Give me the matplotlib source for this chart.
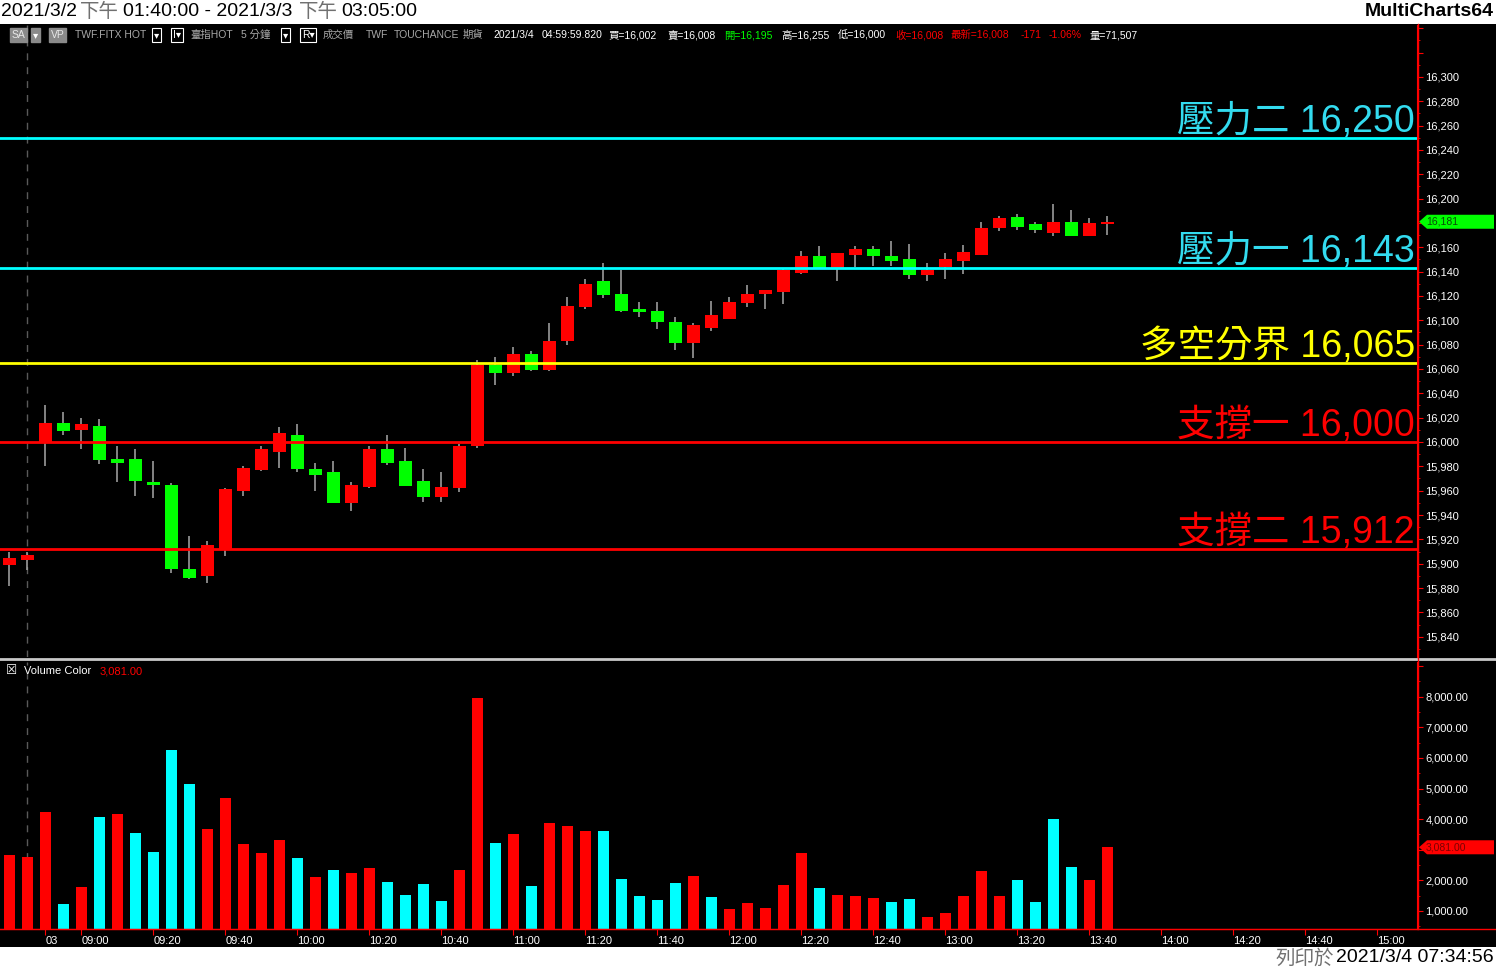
import matplotlib
matplotlib.use('Agg')
import matplotlib.pyplot as plt
import matplotlib.transforms as mtrans
from matplotlib.patches import Rectangle, Polygon
from matplotlib.lines import Line2D
from matplotlib.ticker import FuncFormatter, MultipleLocator

plt.rcParams['font.family'] = ['Liberation Sans', 'Noto Sans CJK TC', 'DejaVu Sans']

# 台指 HOT 5 分鐘 K 棒
opens = [15899, 15903, 15999, 16016, 16010, 16013, 15986, 15986, 15967, 15965,
         15896, 15890, 15911, 15960, 15977, 15992, 16006, 15978, 15975, 15950,
         15963, 15994, 15984, 15968, 15955, 15962, 15997, 16063, 16057, 16072,
         16059, 16083, 16111, 16132, 16122, 16109, 16108, 16099, 16081, 16094,
         16101, 16114, 16122, 16123, 16139, 16153, 16143, 16154, 16159, 16153,
         16150, 16137, 16144, 16149, 16154, 16176, 16185, 16179, 16172, 16181,
         16169, 16179]
highs = [15910, 15910, 16030, 16025, 16020, 16019, 15997, 15994, 15984, 15966,
         15923, 15919, 15962, 15980, 15997, 16012, 16015, 15983, 15984, 15967,
         15997, 16006, 15995, 15978, 15975, 15998, 16067, 16070, 16078, 16075,
         16098, 16119, 16134, 16147, 16141, 16115, 16115, 16103, 16098, 16116,
         16119, 16129, 16125, 16142, 16157, 16161, 16155, 16161, 16161, 16165,
         16163, 16147, 16155, 16162, 16181, 16186, 16187, 16181, 16196, 16191,
         16184, 16186]
lows = [15882, 15895, 15980, 16006, 15994, 15982, 15967, 15956, 15954, 15892,
        15887, 15884, 15906, 15956, 15976, 15979, 15975, 15960, 15950, 15943,
        15962, 15981, 15964, 15951, 15951, 15959, 15995, 16047, 16054, 16058,
        16058, 16080, 16109, 16118, 16107, 16103, 16093, 16076, 16069, 16091,
        16101, 16111, 16109, 16113, 16138, 16142, 16132, 16144, 16145, 16145,
        16134, 16132, 16134, 16138, 16154, 16173, 16174, 16172, 16169, 16169,
        16169, 16170]
closes = [15905, 15907, 16016, 16009, 16015, 15985, 15983, 15968, 15965, 15896,
          15888, 15915, 15961, 15979, 15994, 16007, 15978, 15973, 15950, 15965,
          15994, 15983, 15964, 15955, 15963, 15997, 16063, 16057, 16072, 16059,
          16083, 16112, 16130, 16121, 16108, 16107, 16099, 16081, 16096, 16104,
          16115, 16122, 16125, 16141, 16153, 16143, 16155, 16159, 16153, 16149,
          16137, 16141, 16150, 16156, 16176, 16184, 16177, 16174, 16181, 16169,
          16180, 16181]
volumes = [2822, 2757, 4229, 1219, 1775, 4065, 4163, 3542, 2920, 6257,
           5144, 3672, 4686, 3182, 2888, 3313, 2724, 2102, 2331, 2233,
           2397, 1939, 1514, 1873, 1317, 2331, 7957, 3215, 3509, 1808,
           3869, 3771, 3607, 3607, 2037, 1482, 1351, 1906, 2135, 1449,
           1056, 1252, 1088, 1841, 2888, 1743, 1514, 1482, 1416, 1285,
           1383, 794, 925, 1482, 2299, 1482, 2004, 1285, 4000, 2430,
           2004, 3081]
# r = 紅, c = 青
vol_flags = "rrrcrcrcccc" + "rrrrrcrcrr" + "ccccrrcrcr" + "rrcccccrcr" + "rrrrcrrrcc" + "rrrrrccccrr"

tick_idx = [2, 4, 8, 12, 16, 20, 24, 28, 32, 36, 40, 44, 48, 52, 56, 60, 64, 68, 72, 76]
tick_lbl = ['03', '09:00', '09:20', '09:40', '10:00', '10:20', '10:40', '11:00', '11:20', '11:40',
            '12:00', '12:20', '12:40', '13:00', '13:20', '13:40', '14:00', '14:20', '14:40', '15:00']

levels = [16250, 16143, 16065, 16000, 15912]
level_names = ['壓力二', '壓力一', '多空分界', '支撐一', '支撐二']

W, H = 1496, 969
fig = plt.figure(figsize=(W / 100, H / 100), dpi=100, facecolor='white')
fig.patches.append(Rectangle((0, 1 - 947 / H), 1, (947 - 24) / H, transform=fig.transFigure,
                             facecolor='black', edgecolor='none', zorder=-10))

def fx(px):
    return px / W

def fy(py):
    return 1 - py / H

ax = fig.add_axes([0, fy(657), fx(1417), fy(25) - fy(657)], facecolor='black')
axv = fig.add_axes([0, fy(929), fx(1417), fy(662) - fy(929)], facecolor='black', sharex=ax)

n = len(closes)
xs = list(range(n))
up = [c >= o for o, c in zip(opens, closes)]
ccol = ['#ff0000' if u else '#00ff00' for u in up]
bottoms = [min(o, c) for o, c in zip(opens, closes)]
heights = [max(abs(c - o), 1.2) for o, c in zip(opens, closes)]

ax.axvline(1, color='#5a5a5a', lw=1, ls=(0, (5, 5)), zorder=1)
axv.axvline(1, color='#5a5a5a', lw=1, ls=(0, (5, 5)), zorder=1)

ax.vlines(xs, lows, highs, color='#a8a8a8', lw=1.1, zorder=2)
ax.bar(xs, heights, 0.7, bottom=bottoms, color=ccol, zorder=2.5)

lv_colors = ['#00ffff', '#00ffff', '#ffff00', '#ff0000', '#ff0000']
txt_colors = ['#33dbef', '#33dbef', '#ffff00', '#ff0000', '#ff0000']
for lv, nm, lc, tc in zip(levels, level_names, lv_colors, txt_colors):
    ax.axhline(lv, color=lc, lw=2, zorder=3)
    ax.annotate(f'{nm} {lv:,}', xy=(1, lv), xycoords=ax.get_yaxis_transform(),
                xytext=(-1.5, 4.3), textcoords='offset points', ha='right', va='baseline',
                fontsize=27, color=tc, zorder=4)

ax.set_xlim(-0.52, 78.2)
ax.set_ylim(15823.3, 16342.7)

vcol = ['#ff0000' if f == 'r' else '#00ffff' for f in vol_flags]
axv.bar(xs, volumes, 0.6, color=vcol, zorder=2)
axv.set_ylim(411, 9135)

for a in (ax, axv):
    for s in ('top', 'left', 'bottom'):
        a.spines[s].set_visible(False)
    a.spines['right'].set_color('#ff0000')
    a.yaxis.tick_right()
    a.tick_params(axis='y', colors='#ff0000', labelcolor='white', labelsize=8,
                  length=4, pad=2, which='major')
    a.tick_params(axis='y', which='minor', colors='#ff0000', length=2)
axv.spines['bottom'].set_visible(True)
axv.spines['bottom'].set_color('#ff0000')

ax.yaxis.set_major_locator(MultipleLocator(20))
ax.yaxis.set_minor_locator(MultipleLocator(10))
ax.yaxis.set_major_formatter(FuncFormatter(lambda v, p: '' if v > 16300 else f'{v:,.0f}'))
axv.yaxis.set_major_locator(MultipleLocator(1000))
axv.yaxis.set_minor_locator(MultipleLocator(500))
# the last-value marker hides the label it sits on
axv.yaxis.set_major_formatter(FuncFormatter(
    lambda v, p: '' if (abs(v - volumes[-1]) < 300 or v > 8000) else f'{v:,.2f}'))

ax.tick_params(axis='x', bottom=False, labelbottom=False)
axv.set_xticks(tick_idx)
axv.set_xticklabels(tick_lbl)
axv.tick_params(axis='x', colors='#ff0000', labelcolor='white', labelsize=8, length=4, pad=1)
for lb in axv.get_xticklabels():
    lb.set_ha('left')

# 右側最新價標記
tr = mtrans.blended_transform_factory(fig.transFigure, ax.transData)
last = closes[-1]
hp = 7 / 1.2167
ax.add_patch(Polygon([(fx(1419), last), (fx(1427), last + hp), (fx(1494), last + hp),
                      (fx(1494), last - hp), (fx(1427), last - hp)], closed=True,
                     transform=tr, facecolor='#00ff00', edgecolor='none', clip_on=False, zorder=5))
ax.text(fx(1426), last, f'{last:,}', transform=tr, fontsize=7.5, color='#0a4a0a',
        va='center', ha='left', clip_on=False, zorder=6)

trv = mtrans.blended_transform_factory(fig.transFigure, axv.transData)
lv_ = volumes[-1]
hv = 7 * 32.71
axv.add_patch(Polygon([(fx(1419), lv_), (fx(1427), lv_ + hv), (fx(1494), lv_ + hv),
                       (fx(1494), lv_ - hv), (fx(1427), lv_ - hv)], closed=True,
                      transform=trv, facecolor='#ff0000', edgecolor='none', clip_on=False, zorder=5))
axv.text(fx(1426), lv_, f'{lv_:,.2f}', transform=trv, fontsize=7.5, color='#7a0000',
         va='center', ha='left', clip_on=False, zorder=6)

# 分隔線與底線
fig.add_artist(Line2D([0, 1], [fy(659), fy(659)], transform=fig.transFigure, color='#c8c8c8', lw=2))
fig.add_artist(Line2D([0, 1], [fy(929), fy(929)], transform=fig.transFigure, color='#ff0000', lw=1))
fig.add_artist(Line2D([fx(1418), fx(1418)], [fy(24), fy(929)], transform=fig.transFigure,
                      color='#ff0000', lw=1))

# 標題列
fig.text(0.001, fy(12), '2021/3/2', fontsize=14, color='black', va='center', ha='left')
fig.text(fx(80), fy(12), '下午', fontsize=14, color='#707070', va='center', ha='left')
fig.text(fx(123), fy(12), '01:40:00 - 2021/3/3', fontsize=14, color='black', va='center', ha='left')
fig.text(fx(299), fy(12), '下午', fontsize=14, color='#707070', va='center', ha='left')
fig.text(fx(341), fy(12), '03:05:00', fontsize=14, color='black', va='center', ha='left')
fig.text(fx(1494), fy(12), 'MultiCharts64', fontsize=14, fontweight='bold', color='black',
         va='center', ha='right')

fig.text(fx(1494), fy(958), '2021/3/4 07:34:56', fontsize=14, color='black', va='center', ha='right')
fig.text(fx(1334), fy(958), '列印於', fontsize=14, color='#707070', va='center', ha='right')

# 資訊列
info_y = fy(35)
gray_box = dict(boxstyle='square,pad=0.15', facecolor='#8a8a8a', edgecolor='#8a8a8a')
dark_box = dict(boxstyle='square,pad=0.15', facecolor='black', edgecolor='white', lw=0.8)
fig.text(fx(12), info_y, 'SA', fontsize=7.5, color='#e8e8e8', va='center', bbox=gray_box)
fig.text(fx(33), info_y, '▾', fontsize=7.5, color='white', va='center', bbox=gray_box)
fig.text(fx(51), info_y, 'VP', fontsize=7.5, color='#e8e8e8', va='center', bbox=gray_box)
items = [(75, 'TWF.FITX HOT', '#a8a8a8'), (190, '臺指HOT', '#a8a8a8'), (241, '5 分鐘', '#a8a8a8'),
         (323, '成交價', '#a8a8a8'), (366, 'TWF', '#a8a8a8'), (394, 'TOUCHANCE', '#a8a8a8'),
         (463, '期貨', '#a8a8a8'), (493, '2021/3/4', 'white'), (542, '04:59:59.820', 'white'),
         (608, '買=16,002', 'white'), (667, '賣=16,008', 'white'), (724, '開=16,195', '#00ff00'),
         (781, '高=16,255', 'white'), (838, '低=16,000', 'white'), (895, '收=16,008', '#ff0000'),
         (951, '最新=16,008', '#ff0000'), (1021, '-171', '#ff0000'), (1049, '-1.06%', '#ff0000'),
         (1090, '量=71,507', 'white')]
for px, s, c in items:
    fig.text(fx(px), info_y, s, fontsize=7.5, color=c, va='center', ha='left')
for px, s in [(154, '▾'), (173, 'I▾'), (283, '▾'), (302, 'R▾')]:
    fig.text(fx(px), info_y, s, fontsize=7.5, color='white', va='center', ha='left', bbox=dark_box)

fig.text(fx(6), fy(671), '☒', fontsize=9, color='white', va='center', ha='left')
fig.text(fx(24), fy(671), 'Volume Color', fontsize=8, color='white', va='center', ha='left')
fig.text(fx(100), fy(671), f'{volumes[-1]:,.2f}', fontsize=8, color='#ff0000', va='center', ha='left')

fig.savefig('out.png', dpi=100, facecolor='white')
